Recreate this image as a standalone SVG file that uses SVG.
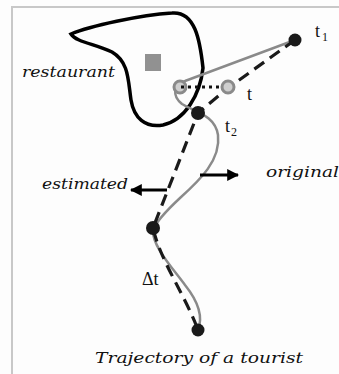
<svg xmlns="http://www.w3.org/2000/svg" width="339" height="374" viewBox="0 0 339 374">
<defs>
<marker id="ah" viewBox="0 0 10 10" refX="9" refY="5" markerWidth="4" markerHeight="4" orient="auto" markerUnits="strokeWidth">
<path d="M0,0 L10,5 L0,10 Z" fill="#000"/>
</marker>
<style>
.lbl{font-family:"DejaVu Serif",serif;font-style:italic;font-size:15px;fill:#111}
.sym{font-family:"Liberation Serif","Times New Roman",serif;font-size:18px;fill:#111}
.sub{font-family:"Liberation Serif","Times New Roman",serif;font-size:12px;fill:#111}
.gray{fill:none;stroke:#8a8a8a;stroke-width:2.5;stroke-linecap:round}
.dash{fill:none;stroke:#1a1a1a;stroke-width:3.2;stroke-dasharray:12 7}
.dot{fill:#1a1a1a}
.ring{fill:#cfcfcf;stroke:#8a8a8a;stroke-width:3}
.arr{stroke:#000;stroke-width:3;marker-end:url(#ah)}
</style>
</defs>
<rect width="339" height="374" fill="#fdfdfd"/>
<path d="M12,374 L12,7 L339,7" fill="none" stroke="#c8c8c8" stroke-width="2"/>
<g id="restaurant">
<path d="M71,34 C90,26 140,15 172,13 C195,11 200,40 203,68 C200,95 185,120 163,125 C145,128 134,118 131,100 C128,80 129,62 112,52 C95,44 76,42 71,34 Z" fill="none" stroke="#000" stroke-width="3.5"/>
<rect x="145" y="54" width="16" height="17" fill="#919191"/>
<text class="lbl" x="22" y="77" textLength="93" lengthAdjust="spacingAndGlyphs">restaurant</text>
</g>
<g id="connectors">
<path class="gray" d="M295,40 L185,81 C173,85 172,96 182,104 C195,112 215,115 218,135 C221,160 200,180 180,198 C165,212 156,222 153,230 C152,245 170,265 185,285 C197,300 204,315 198,330"/>
<path class="dash" d="M295,40 L228,88 L198,113 L153,228 C160,260 185,295 198,330"/>
<line class="arr" x1="167" y1="190" x2="131" y2="190"/>
<line class="arr" x1="200" y1="175" x2="238" y2="175"/>
</g>
<g id="t1">
<circle class="dot" cx="295" cy="40" r="6.5"/>
<text class="sym" x="315" y="37">t</text><text class="sub" x="322" y="41">1</text>
</g>
<g id="t">
<circle class="ring" cx="180" cy="87" r="6"/>
<circle class="ring" cx="228" cy="87" r="6"/>
<line x1="181" y1="87" x2="222" y2="87" stroke="#111" stroke-width="3" stroke-dasharray="3 4"/>
<text class="sym" x="247" y="100">t</text>
</g>
<g id="t2">
<circle class="dot" cx="198" cy="113" r="7"/>
<text class="sym" x="225" y="132">t</text><text class="sub" x="231" y="136">2</text>
</g>
<g id="est">
<circle class="dot" cx="153" cy="228" r="7"/>
<text class="sym" x="142" y="285">Δt</text>
</g>
<g id="end">
<circle class="dot" cx="198" cy="330" r="6.5"/>
</g>
<g id="labels">
<text class="lbl" x="42" y="189" textLength="86" lengthAdjust="spacingAndGlyphs">estimated</text>
<text class="lbl" x="266" y="177" textLength="73" lengthAdjust="spacingAndGlyphs">original</text>
<text class="lbl" x="95" y="363" textLength="208" lengthAdjust="spacingAndGlyphs">Trajectory of a tourist</text>
</g>
</svg>
